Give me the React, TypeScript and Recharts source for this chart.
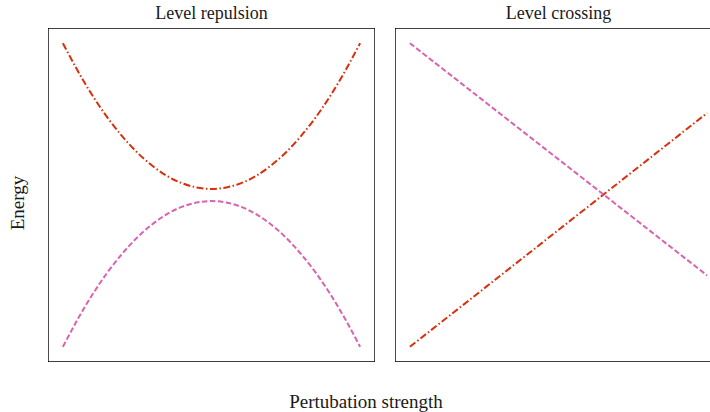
import React from 'react';
import { LineChart, Line, XAxis, YAxis, ReferenceArea } from 'recharts';

// perturbation values along the x axis
const strength = [-1, -0.9, -0.8, -0.7, -0.6, -0.5, -0.4, -0.3, -0.2, -0.1, 0, 0.1, 0.2, 0.3, 0.4, 0.5, 0.6, 0.7, 0.8, 0.9, 1];

// avoided crossing: upper and lower levels
const repulsionUpper = [1.0, 0.818, 0.654, 0.51, 0.386, 0.28, 0.194, 0.126, 0.078, 0.05, 0.04, 0.05, 0.078, 0.126, 0.194, 0.28, 0.386, 0.51, 0.654, 0.818, 1.0];
const repulsionLower = [-1.0, -0.818, -0.654, -0.51, -0.386, -0.28, -0.194, -0.126, -0.078, -0.05, -0.04, -0.05, -0.078, -0.126, -0.194, -0.28, -0.386, -0.51, -0.654, -0.818, -1.0];

// true crossing: two straight levels
const crossingX = [-1, 1];
const crossingRising = [-1.0, 0.54];
const crossingFalling = [1.0, -0.53];

const RED = '#d8300c';
const PINK = '#d963b0';
const DOMAIN: [number, number] = [-1.1, 1.1];
const FONT = '"Liberation Serif", "DejaVu Serif", serif';

const repulsionData = strength.map((x, i) => ({ x, upper: repulsionUpper[i], lower: repulsionLower[i] }));
const crossingData = crossingX.map((x, i) => ({ x, rising: crossingRising[i], falling: crossingFalling[i] }));

const PANEL_W = 327;
const PANEL_H = 334;

const Panel: React.FC<{ data: any[]; upperKey: string; lowerKey: string }> = ({ data, upperKey, lowerKey }) => (
    <LineChart width={PANEL_W} height={PANEL_H} data={data} margin={{ top: 0, right: 0, bottom: 0, left: 0 }}>
        <XAxis dataKey="x" type="number" domain={DOMAIN} hide />
        <YAxis type="number" domain={DOMAIN} hide />
        <ReferenceArea x1={DOMAIN[0]} x2={DOMAIN[1]} y1={DOMAIN[0]} y2={DOMAIN[1]} fill="none" stroke="#000" strokeWidth={1.4} ifOverflow="visible" />
        <Line dataKey={upperKey} type="natural" stroke={RED} strokeWidth={2} strokeDasharray="7 2.5 1.5 2.5" dot={false} isAnimationActive={false} />
        <Line dataKey={lowerKey} type="natural" stroke={PINK} strokeWidth={2} strokeDasharray="5.5 2.5" dot={false} isAnimationActive={false} />
    </LineChart>
);

const titleStyle: React.CSSProperties = {
    position: 'absolute',
    top: 3,
    width: PANEL_W,
    textAlign: 'center',
    fontFamily: FONT,
    fontSize: 18,
    color: '#1a1a1a',
};

const axisLabelStyle: React.CSSProperties = {
    position: 'absolute',
    fontFamily: FONT,
    fontSize: 19,
    color: '#1a1a1a',
    whiteSpace: 'nowrap',
};

export default function App() {
    return (
        <div style={{ position: 'absolute', left: 0, top: 0, width: 740, height: 412, background: '#fff', overflow: 'hidden' }}>
            <div style={{ ...titleStyle, left: 48 }}>Level repulsion</div>
            <div style={{ ...titleStyle, left: 395 }}>Level crossing</div>
            <div style={{ position: 'absolute', left: 48, top: 28 }}>
                <Panel data={repulsionData} upperKey="upper" lowerKey="lower" />
            </div>
            <div style={{ position: 'absolute', left: 395, top: 28 }}>
                <Panel data={crossingData} upperKey="rising" lowerKey="falling" />
            </div>
            <div style={{ ...axisLabelStyle, left: 18, top: 203, transform: 'translate(-50%, -50%) rotate(-90deg)' }}>
                Energy
            </div>
            <div style={{ ...axisLabelStyle, left: 366, top: 402, transform: 'translate(-50%, -50%)' }}>
                Pertubation strength
            </div>
        </div>
    );
}
